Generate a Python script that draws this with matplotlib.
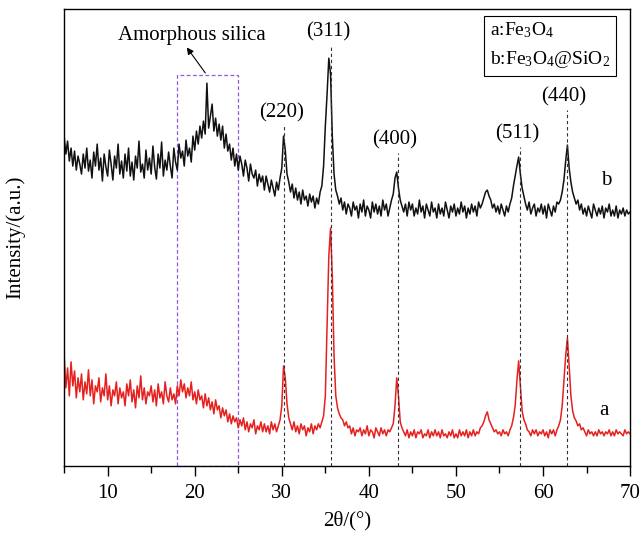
import numpy as np
import matplotlib
matplotlib.use('Agg')
import matplotlib.pyplot as plt
from matplotlib.patches import Rectangle
from matplotlib.ticker import MultipleLocator

plt.rcParams['font.family'] = ['Liberation Serif', 'DejaVu Serif']
plt.rcParams['mathtext.fontset'] = 'custom'
plt.rcParams['mathtext.rm'] = 'Liberation Serif'
plt.rcParams['mathtext.it'] = 'Liberation Serif:italic'

# ---- data (2theta step 0.2 deg, 5..70) ----
# sample b : Fe3O4@SiO2 (black, offset upward)
intensity_b = [
    330, 312, 325, 305, 318,   # 5
    300, 315, 296, 310, 302,   # 6
    292, 312, 298, 318, 295,   # 7
    306, 288, 314, 300, 322,   # 8
    296, 308, 285, 312, 299,   # 9
    290, 316, 302, 286, 310,   # 10
    298, 322, 292, 305, 288,   # 11
    312, 295, 318, 290, 304,   # 12
    286, 310, 298, 325, 294,   # 13
    302, 288, 316, 296, 308,   # 14
    292, 320, 299, 287, 312,   # 15
    298, 324, 290, 306, 296,   # 16
    314, 300, 288, 318, 304,   # 17
    296, 322, 308, 315, 300,   # 18
    326, 310, 318, 304, 330,   # 19
    316, 335, 322, 340, 328,   # 20
    345, 332, 383, 338, 350,   # 21
    362, 335, 348, 330, 342,   # 22
    326, 340, 318, 332, 315,   # 23
    322, 306, 318, 300, 312,   # 24
    296, 310, 302, 290, 306,   # 25
    298, 285, 302, 292, 288,   # 26
    296, 280, 292, 284, 290,   # 27
    276, 290, 282, 274, 286,   # 28
    278, 270, 284, 276, 288,   # 29
    298, 330, 316, 292, 284,   # 30
    274, 282, 268, 278, 266,   # 31
    274, 262, 276, 266, 270,   # 32
    260, 272, 264, 270, 258,   # 33
    268, 262, 274, 280, 300,   # 34
    340, 372, 408, 392, 330,   # 35
    292, 276, 270, 262, 268,   # 36
    256, 264, 252, 262, 258,   # 37
    250, 264, 256, 260, 248,   # 38
    262, 254, 266, 250, 260,   # 39
    256, 248, 264, 254, 262,   # 40
    252, 260, 250, 266, 256,   # 41
    262, 250, 258, 266, 272,   # 42
    288, 294, 278, 266, 260,   # 43
    254, 262, 250, 264, 256,   # 44
    262, 250, 258, 252, 266,   # 45
    254, 260, 248, 262, 256,   # 46
    250, 264, 254, 258, 248,   # 47
    262, 252, 258, 250, 264,   # 48
    256, 248, 260, 254, 262,   # 49
    250, 258, 252, 264, 254,   # 50
    260, 248, 258, 252, 262,   # 51
    254, 260, 250, 264, 258,   # 52
    262, 268, 274, 276, 270,   # 53
    266, 258, 262, 254, 260,   # 54
    252, 262, 256, 250, 260,   # 55
    254, 262, 268, 280, 290,   # 56
    300, 309, 292, 278, 270,   # 57
    262, 256, 264, 252, 258,   # 58
    262, 250, 258, 254, 262,   # 59
    252, 260, 248, 262, 256,   # 60
    250, 260, 254, 264, 262,   # 61
    266, 274, 286, 305, 321,   # 62
    298, 284, 274, 268, 262,   # 63
    266, 256, 262, 252, 258,   # 64
    250, 260, 254, 248, 262,   # 65
    256, 250, 258, 252, 260,   # 66
    248, 258, 254, 262, 250,   # 67
    256, 250, 260, 248, 256,   # 68
    252, 258, 250, 256, 252,   # 69
    254,                       # 70
]

# sample a : Fe3O4 (red)
intensity_a = [
    112, 78, 98, 70, 104,   # 5
    80, 95, 68, 88, 74,     # 6
    92, 66, 84, 72, 96,     # 7
    70, 86, 62, 80, 74,     # 8
    88, 64, 78, 70, 92,     # 9
    66, 80, 60, 76, 70,     # 10
    84, 62, 78, 68, 74,     # 11
    60, 82, 70, 86, 64,     # 12
    76, 58, 80, 68, 90,     # 13
    66, 78, 62, 74, 70,     # 14
    80, 64, 76, 60, 82,     # 15
    68, 74, 62, 84, 70,     # 16
    64, 78, 66, 72, 62,     # 17
    80, 70, 86, 74, 82,     # 18
    68, 78, 70, 84, 66,     # 19
    74, 62, 76, 66, 70,     # 20
    58, 72, 60, 68, 56,     # 21
    64, 52, 66, 56, 60,     # 22
    48, 58, 50, 56, 44,     # 23
    52, 42, 50, 44, 48,     # 24
    38, 46, 40, 48, 36,     # 25
    44, 34, 42, 38, 46,     # 26
    32, 40, 36, 44, 34,     # 27
    42, 34, 40, 32, 44,     # 28
    36, 42, 34, 40, 46,     # 29
    60, 100, 88, 62, 48,    # 30
    42, 36, 44, 34, 40,     # 31
    32, 42, 36, 40, 30,     # 32
    38, 34, 42, 32, 40,     # 33
    36, 42, 38, 44, 50,     # 34
    70, 140, 210, 238, 190, # 35
    110, 70, 58, 52, 48,    # 36
    46, 40, 44, 38, 40,     # 37
    32, 38, 30, 36, 34,     # 38
    38, 30, 36, 32, 40,     # 39
    30, 36, 34, 28, 38,     # 40
    34, 30, 38, 32, 36,     # 41
    30, 36, 34, 38, 42,     # 42
    60, 88, 70, 44, 38,     # 43
    34, 30, 36, 28, 34,     # 44
    30, 36, 28, 34, 32,     # 45
    36, 28, 32, 30, 36,     # 46
    28, 34, 30, 36, 30,     # 47
    34, 28, 36, 30, 32,     # 48
    28, 34, 30, 36, 28,     # 49
    32, 28, 36, 30, 34,     # 50
    30, 36, 28, 34, 30,     # 51
    36, 30, 34, 32, 38,     # 52
    40, 44, 50, 54, 46,     # 53
    42, 38, 34, 36, 32,     # 54
    34, 30, 36, 32, 34,     # 55
    30, 36, 40, 48, 60,     # 56
    85, 105, 80, 55, 46,    # 57
    42, 36, 34, 30, 36,     # 58
    32, 36, 30, 34, 32,     # 59
    36, 30, 34, 28, 36,     # 60
    32, 36, 30, 36, 40,     # 61
    46, 60, 85, 110, 128,   # 62
    100, 70, 55, 48, 45,    # 63
    40, 42, 36, 38, 34,     # 64
    30, 36, 32, 34, 30,     # 65
    34, 30, 36, 32, 34,     # 66
    30, 34, 32, 36, 30,     # 67
    34, 30, 36, 32, 34,     # 68
    32, 30, 36, 32, 34,     # 69
    32,                     # 70
]

two_theta = np.linspace(5, 70, len(intensity_a))

peak_pos = [30.3, 35.6, 43.3, 57.3, 62.7]
peak_labels = ['(220)', '(311)', '(400)', '(511)', '(440)']
peak_line_top = [340, 421, 313, 319, 356]

silica_range = [18.0, 25.0]
silica_top = 391

fig = plt.figure(figsize=(6.41, 5.41), dpi=100)
ax = fig.add_axes([0.100, 0.139, 0.883, 0.844])

ax.plot(two_theta, intensity_a, color='#e5211f', lw=1.1)
ax.plot(two_theta, intensity_b, color='#111111', lw=1.1)

ax.vlines(peak_pos, 0, peak_line_top, colors='#333333', linestyles=(0, (3, 2.5)), lw=0.8)
for x, lab, top in zip(peak_pos, peak_labels, peak_line_top):
    ax.text(x - 0.3, top + 4, lab, ha='center', va='bottom', fontsize=15)

ax.add_patch(Rectangle((silica_range[0], 0), silica_range[1] - silica_range[0], silica_top,
                       fill=False, edgecolor='#8a5ad8', ls=(0, (3, 2)), lw=0.9))
ax.annotate('', xy=(18.9, 421), xytext=(21.4, silica_top),
            arrowprops=dict(arrowstyle='-|>', color='black', lw=0.8, mutation_scale=10))
ax.text(19.7, 431, 'Amorphous silica', ha='center', va='center', fontsize=15)

ax.text(53.9, 446, 'a:Fe$_3$O$_4$\nb:Fe$_3$O$_4$@SiO$_2$', ha='left', va='top',
        fontsize=14, linespacing=1.6,
        bbox=dict(boxstyle='square,pad=0.3', fc='white', ec='black', lw=0.8))

ax.text(67.3, 286, 'b', ha='center', va='center', fontsize=15)
ax.text(67.0, 55, 'a', ha='center', va='center', fontsize=15)

ax.set_xlim(5, 70)
ax.set_ylim(0, 457)
ax.xaxis.set_major_locator(MultipleLocator(10))
ax.xaxis.set_minor_locator(MultipleLocator(5))
ax.tick_params(axis='x', which='major', direction='out', length=7, width=1, labelsize=15, pad=6)
ax.tick_params(axis='x', which='minor', direction='out', length=5, width=1)
ax.set_yticks([])
for s in ax.spines.values():
    s.set_linewidth(1)

ax.set_xlabel('2θ/(°)', fontsize=15, labelpad=6)
ax.set_ylabel('Intensity/(a.u.)', fontsize=15, labelpad=28)

fig.savefig('out.png', dpi=100)
